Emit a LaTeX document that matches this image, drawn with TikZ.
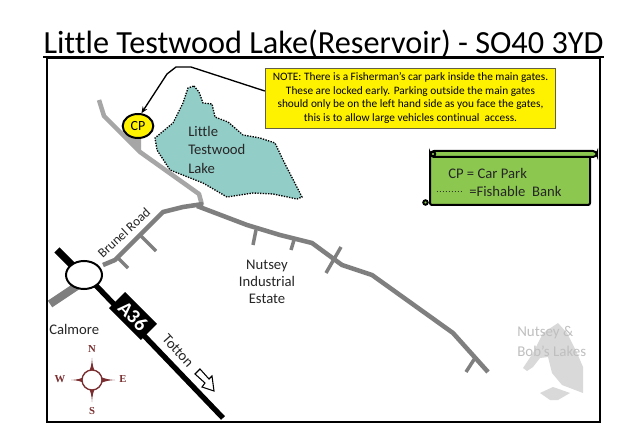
\documentclass[tikz,border=0pt]{standalone}
\usepackage{fontspec}
\setmainfont{Carlito}[Ligatures=NoCommon]
\newfontfamily\compassfont{Liberation Serif}
\usetikzlibrary{arrows.meta,calc,shapes.geometric}
\definecolor{roaddark}{HTML}{7F7F7F}
\definecolor{roadlight}{HTML}{A6A6A6}
\definecolor{lakefill}{HTML}{93CDC8}
\definecolor{scrollfill}{HTML}{8CC850}
\definecolor{compassred}{HTML}{7A2E30}
\definecolor{farlake}{HTML}{D9D9D9}
\definecolor{fartext}{HTML}{BFBFBF}
\newcommand\legenddot{.\kern.5pt}
\tikzset{
  x=0.75pt,y=-0.75pt,
  road/.style={draw=roaddark,line width=3.4pt,line join=round},
  sideroad/.style={draw=roaddark,line width=2.6pt},
  lightroad/.style={draw=roadlight,line width=3.4pt,line join=round},
  lbl/.style={font=\fontsize{11}{13}\selectfont,inner sep=0pt,text=black!85},
  compassletter/.style={font=\compassfont\bfseries\fontsize{8}{8}\selectfont,text=compassred,inner sep=0pt},
  compasspoint/.style={fill=compassred},
}
\begin{document}
\begin{tikzpicture}
\useasboundingbox (0,0) rectangle (632,438);
\fill[white] (0,0) rectangle (632,438);
% title
\node[inner sep=0pt,anchor=base] (title) at (323.5,54) {\fontsize{24.2}{28}\selectfont Little Testwood Lake(Reservoir) - SO40 3YD};
\draw[line width=1pt] (title.west |- 0,57) -- (title.east |- 0,57);
% frame
\draw[line width=1.5pt] (47,58) rectangle (600,422);
% far lakes
\fill[farlake] (558,323) -- (543,333) -- (533,353) -- (523,368) -- (527,371) -- (533,367) -- (540,358) -- (548,357) -- (552,373) -- (562,385) -- (583,393) -- (583,367) -- (577,353) -- (567,333) -- cycle;
\fill[farlake] (540,393) -- (553,387) -- (570,393) -- (558,400) -- (550,400) -- cycle;
\node[inner sep=0pt,anchor=west,text=fartext,font=\fontsize{11.2}{12}\selectfont] (fara) at (517,333) {Nutsey \&};
\node[inner sep=0pt,anchor=west,text=fartext,font=\fontsize{11.2}{12}\selectfont] (farb) at (517,351) {Bob's Lakes};
% lake
\draw[fill=lakefill,line width=1pt,densely dotted] (194,86) -- (199,92) -- (203,103) -- (212,104) -- (215,117) -- (228,122) -- (243,135) -- (260,138) -- (275,143) -- (283,160) -- (302,197) -- (297,199) -- (273,194) -- (253,193) -- (227,197) -- (203,183) -- (170,170) -- (157,150) -- (155,138) -- (173,123) -- (183,103) -- (188,88) -- cycle;
\node[lbl,anchor=west] (lk1) at (188,131) {Little};
\node[lbl,anchor=west] (lk2) at (188,149) {Testwood};
\node[lbl,anchor=west] (lk3) at (188,168) {Lake};
% light road
\fill[roadlight] (123,133) -- (141,139) -- (141,152) -- cycle;
\draw[lightroad] (99,100) -- (104,116) -- (140,152) -- (199,194) -- (202,205);
% dark roads
\draw[road] (103,265) -- (115,260) -- (135,240) -- (163,212) -- (183,207) -- (203,204);
\draw[road] (197,206) -- (247,225) -- (280,235) -- (300,240) -- (312,243) -- (342,265) -- (372,275) -- (453,333) -- (488,372);
\draw[sideroad] (117,257) -- (128,268);
\draw[sideroad] (140,235) -- (156,251);
\draw[sideroad] (256,230) -- (253,245);
\draw[sideroad] (294,240) -- (291,250);
\draw[sideroad] (341,247) -- (326,273);
\draw[sideroad] (475,358) -- (466,372);
\draw[draw=roaddark,line width=6pt] (77,286) -- (50,304);
% A36
\draw[line width=5.5pt] (57,250) -- (74,267);
\draw[line width=4pt] (85,274) -- (223,418);
\node[fill=black,text=white,rotate=-45,minimum width=33.75pt,minimum height=17pt,inner sep=0pt,font=\bfseries\fontsize{15}{15}\selectfont] (aroad) at (133,316) {A36};
\node[draw,line width=1.5pt,fill=white,ellipse,minimum width=27pt,minimum height=21pt,inner sep=0pt] (rbt) at (84,275) {};
% labels
\node[lbl,rotate=43,font=\fontsize{10}{12}\selectfont] (brunel) at (124,233) {Brunel Road};
\node[lbl,anchor=west] (calmore) at (49,329) {Calmore};
\node[lbl,rotate=-48] (totton) at (178,351) {Totton};
\draw[line width=0.8pt,fill=white] (195,374) -- (200,369) -- (209,379) -- (212,376) -- (214,391) -- (202,387) -- (205,383) -- cycle;
\node[lbl,align=center] (estate) at (267,282) {\fontsize{11}{18.5}\selectfont Nutsey\\Industrial\\Estate};
% car park
\node[draw,line width=1.5pt,fill=yellow,ellipse,minimum width=23pt,minimum height=18pt,inner sep=0pt,font=\fontsize{10.5}{12}\selectfont] (cp) at (138,126) {CP};
% note
\node[draw=black!70!yellow,line width=0.6pt,fill=yellow,minimum width=218pt,minimum height=45pt,inner sep=0pt,align=center,font=\fontsize{8.5}{10.3}\selectfont] (note) at (410.5,98) {NOTE: There is a Fisherman’s car park inside the main gates.\\These are locked early. Parking outside the main gates\\should only be on the left hand side as you face the gates,\\this is to allow large vehicles continual\ \ access.};
\coordinate (leader) at (note.west |- 0,91);
\draw[line width=1pt,-{Stealth[length=5pt,width=4pt]}] (leader) -- (191,67) -- (176,67) -- (167,74) -- (cp.75);
% legend scroll
\fill[scrollfill] (430,153) rectangle (590,205);
\draw[line width=1.5pt,rounded corners=1.5pt] (430,153) -- (430,205) -- (590,205) -- (590,153);
\draw[line width=1.5pt,fill=scrollfill,rounded corners=3pt] (430,151) -- (597,151) -- (597,157) -- (430,157) -- cycle;
\draw[line width=1.5pt,fill=scrollfill] (433,154) circle (2.2);
\draw[line width=1.5pt,fill=scrollfill] (425.5,202.5) circle (2.2);
\node[lbl,anchor=west] (lg1) at (448,173) {CP = Car Park};
\node[lbl,anchor=base west,font=\fontsize{7}{10}\selectfont] (lg2a) at (436,193) {\legenddot\legenddot\legenddot\legenddot\legenddot\legenddot\legenddot\legenddot\legenddot};
\node[lbl,anchor=west] (lg2b) at (469,191) {=Fishable\ \ Bank};
% compass
\path[compasspoint] (92,358) .. controls (92.5,365) and (93,368) .. (96,373) -- (88,373) .. controls (91,368) and (91.5,365) .. (92,358);
\path[compasspoint] (92,402) .. controls (92.5,395) and (93,392) .. (96,387) -- (88,387) .. controls (91,392) and (91.5,395) .. (92,402);
\path[compasspoint] (71,380) .. controls (78,380.5) and (81,381) .. (85,384) -- (85,376) .. controls (81,379) and (78,379.5) .. (71,380);
\path[compasspoint] (115,380) .. controls (108,380.5) and (105,381) .. (99,384) -- (99,376) .. controls (105,379) and (108,379.5) .. (115,380);
\draw[compassred,line width=1pt,fill=white] (92,380) circle (10);
\node[compassletter] (cn) at (92,349) {N};
\node[compassletter] (cs) at (92,411) {S};
\node[compassletter] (cw) at (60,379) {W};
\node[compassletter] (ce) at (123,379) {E};
\end{tikzpicture}
\end{document}
